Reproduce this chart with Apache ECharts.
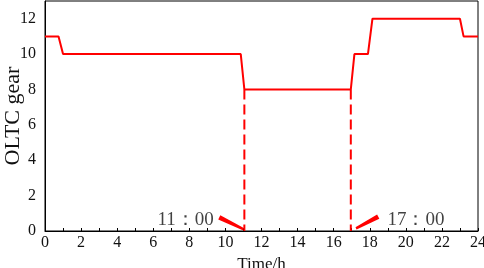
<!DOCTYPE html>
<html>
<head>
<meta charset="utf-8">
<script src="https://cdn.jsdelivr.net/npm/echarts@6/dist/echarts.min.js"></script>
<style>
    html, body {margin: 0; padding: 0; background: #fff;}
    #chart {width: 484px; height: 268px;}
</style>
</head>
<body>
<div id="chart"></div>
<script>
// gear steps over the day (time in h, gear)
const gearTime = [0, 0.75, 1, 10.85, 11.05, 16.95, 17.15, 17.9, 18.15, 23.0, 23.2, 24];
const gearValue = [11, 11, 10, 10, 8, 8, 10, 10, 12, 12, 11, 11];
const switchTimes = [11.05, 16.95];
const switchLabels = ['11：00', '17：00'];
const labelPos = [[7.79, 0.64], [20.56, 0.64]];
// pointer wedges: [startTime, startGear, endTime, endGear]
const pointers = [
    [9.66, 0.77, 10.99, 0.11],
    [18.47, 0.81, 17.24, 0.15],
];

const RED = '#ff0000';
const INK = '#111';
const FONT = '"Liberation Serif", "Times New Roman", serif';

const chart = echarts.init(document.getElementById('chart'), null, {renderer: 'canvas'});

const axisCommon = {
    axisLine: {show: true, lineStyle: {color: '#000', width: 1}},
    splitLine: {show: false},
    axisLabel: {color: INK, fontFamily: FONT, fontSize: 16},
    nameTextStyle: {color: INK, fontFamily: FONT, fontSize: 17},
    nameMoveOverlap: false,
};

const series = [{
    type: 'line',
    data: gearTime.map((t, i) => [t, gearValue[i]]),
    showSymbol: false,
    animation: false,
    lineStyle: {color: RED, width: 2},
    z: 3,
}];

switchTimes.forEach(t => {
    series.push({
        type: 'line',
        data: [[t, 8], [t, 0]],
        showSymbol: false,
        animation: false,
        lineStyle: {color: RED, width: 2, type: [10, 5]},
    });
});

// tapered wedge from label to dashed line
series.push({
    type: 'custom',
    data: pointers,
    animation: false,
    renderItem(params, api) {
        const a = api.coord([api.value(0), api.value(1)]);
        const b = api.coord([api.value(2), api.value(3)]);
        const dx = b[0] - a[0], dy = b[1] - a[1];
        const len = Math.hypot(dx, dy);
        const nx = -dy / len, ny = dx / len;
        const w0 = 2.4, w1 = 1.2;
        return {
            type: 'polygon',
            shape: {points: [
                [a[0] + nx * w0, a[1] + ny * w0],
                [b[0] + nx * w1, b[1] + ny * w1],
                [b[0] - nx * w1, b[1] - ny * w1],
                [a[0] - nx * w0, a[1] - ny * w0],
            ]},
            style: {fill: RED},
        };
    },
});

series.push({
    type: 'scatter',
    data: labelPos.map((p, i) => ({value: p, name: switchLabels[i]})),
    symbolSize: 0,
    animation: false,
    label: {
        show: true,
        position: 'inside',
        formatter: p => p.name,
        color: INK,
        fontFamily: FONT,
        fontSize: 19,
    },
});

chart.setOption({
    animation: false,
    grid: {
        left: 45, right: 6, top: 1, bottom: 37,
        outerBoundsMode: 'none',
        show: true, borderColor: '#000', borderWidth: 1,
    },
    xAxis: {
        ...axisCommon,
        type: 'value',
        min: 0,
        max: 24,
        interval: 1,
        name: 'Time/h',
        nameLocation: 'middle',
        nameGap: 25,
        axisTick: {show: true, inside: true, length: 3, lineStyle: {color: '#000'}},
        axisLabel: {
            ...axisCommon.axisLabel,
            margin: 4,
            formatter: v => (v % 2 === 0 ? String(v) : ''),
        },
    },
    yAxis: {
        ...axisCommon,
        type: 'value',
        min: 0,
        max: 13,
        interval: 2,
        name: 'OLTC gear',
        nameLocation: 'middle',
        nameGap: 21,
        nameTextStyle: {...axisCommon.nameTextStyle, fontSize: 22},
        axisTick: {show: false},
        axisLabel: {...axisCommon.axisLabel, margin: 9, showMaxLabel: false},
    },
    series,
});
</script>
</body>
</html>
